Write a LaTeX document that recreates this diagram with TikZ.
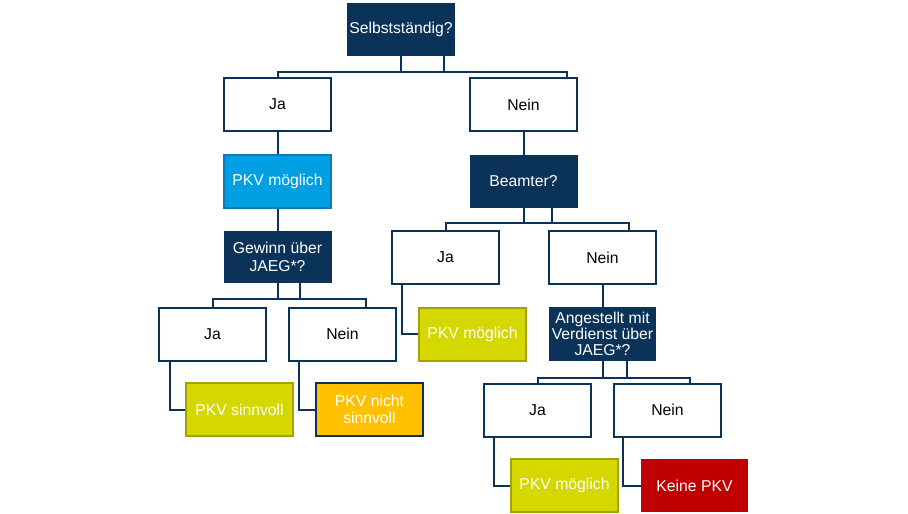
\documentclass[tikz,border=0pt]{standalone}
\usepackage{fontspec}
\setmainfont{Liberation Sans}
\usepackage{tikz}
\usetikzlibrary{calc}
\definecolor{C0}{HTML}{0B3259}
\definecolor{C1}{HTML}{009FE3}
\definecolor{C2}{HTML}{D4D700}
\definecolor{C3}{HTML}{FFC000}
\definecolor{C4}{HTML}{C00000}
\definecolor{C5}{HTML}{A3A300}
\definecolor{C6}{HTML}{0A7DB8}

\begin{document}
\begin{tikzpicture}[x=0.75pt,y=-0.75pt,
  font=\fontsize{11.8}{12.2}\selectfont,
  box/.style={draw=C0,line width=1.5pt,fill=white,minimum width=80.25pt,minimum height=39.75pt,align=center,inner sep=1pt},
  ask/.style={box,fill=C0,text=white,minimum width=79.5pt,minimum height=38.25pt},
  leaf/.style={box,fill=C2,draw=C5,text=white},
  link/.style={draw=C0,line width=1.5pt}]
\useasboundingbox (0,0) rectangle (908,514);
% questions and answers
\node[ask] (sel) at (401,29) {Selbstständig?};
\node[box] (ja1) at (277.5,104.5) {Ja};
\node[box] (nein1) at (523.5,104.5) {Nein};
\node[box,fill=C1,draw=C6,text=white] (pkv1) at (277.5,181.5) {PKV möglich};
\node[ask,minimum height=37.5pt,font=\fontsize{11.8}{13.2}\selectfont] (gew) at (277.5,257) {Gewinn über\\JAEG*?};
\node[box] (ja2) at (212.5,334) {Ja};
\node[box] (nein2) at (342.5,334) {Nein};
\node[leaf] (sinn) at (239.5,409.5) {PKV sinnvoll};
\node[leaf,fill=C3,draw=C0] (nicht) at (369.5,409.5) {PKV nicht\\sinnvoll};
\node[ask] (beam) at (523.5,181.5) {Beamter?};
\node[box] (ja3) at (445.5,257.5) {Ja};
\node[box] (nein3) at (602.5,257.5) {Nein};
\node[leaf] (pkv2) at (472.5,334) {PKV möglich};
\node[ask,minimum width=78.75pt,minimum height=39pt,inner sep=0pt] (ang) at (602.5,334) {Angestellt mit\\Verdienst über\\JAEG*?};
\node[box] (ja4) at (537.5,410) {Ja};
\node[box] (nein4) at (667.5,410) {Nein};
\node[leaf] (pkv3) at (564.5,485.5) {PKV möglich};
\node[leaf,fill=C4,draw=C4,minimum width=78.75pt,minimum height=38.25pt] (keine) at (694.5,485.5) {Keine PKV};
% brackets
\draw[link] (sel.south) -- ++(0,16) coordinate (s1) -| (ja1.north);
\draw[link] (s1) -| ($(nein1.north)+(43,0)$);
\draw[link] ($(sel.south)+(43,0)$) -- ++(0,16);
\draw[link] (gew.south) -- ++(0,16) coordinate (s2) -| (ja2.north);
\draw[link] (s2) -| ($(nein2.north)+(23,0)$);
\draw[link] ($(gew.south)+(22,0)$) -- ++(0,16);
\draw[link] (beam.south) -- ++(0,15) coordinate (s3) -| (ja3.north);
\draw[link] (s3) -| ($(nein3.north)+(26.5,0)$);
\draw[link] ($(beam.south)+(28,0)$) -- ++(0,15);
\draw[link] (ang.south) -- ++(0,17) coordinate (s4) -| (ja4.north);
\draw[link] (s4) -| ($(nein4.north)+(22.5,0)$);
\draw[link] ($(ang.south)+(24,0)$) -- ++(0,17);
% straight links
\draw[link] (ja1) -- (pkv1);
\draw[link] (pkv1) -- (gew);
\draw[link] (nein1) -- (beam);
\draw[link] (nein3) -- (ang);
% elbows to the results
\draw[link] ($(ja2.south west)+(12,0)$) |- (sinn.west);
\draw[link] ($(nein2.south west)+(11,0)$) |- (nicht.west);
\draw[link] ($(ja3.south west)+(11,0)$) |- (pkv2.west);
\draw[link] ($(ja4.south west)+(11,0)$) |- (pkv3.west);
\draw[link] ($(nein4.south west)+(10,0)$) |- (keine.west);
\end{tikzpicture}
\end{document}
